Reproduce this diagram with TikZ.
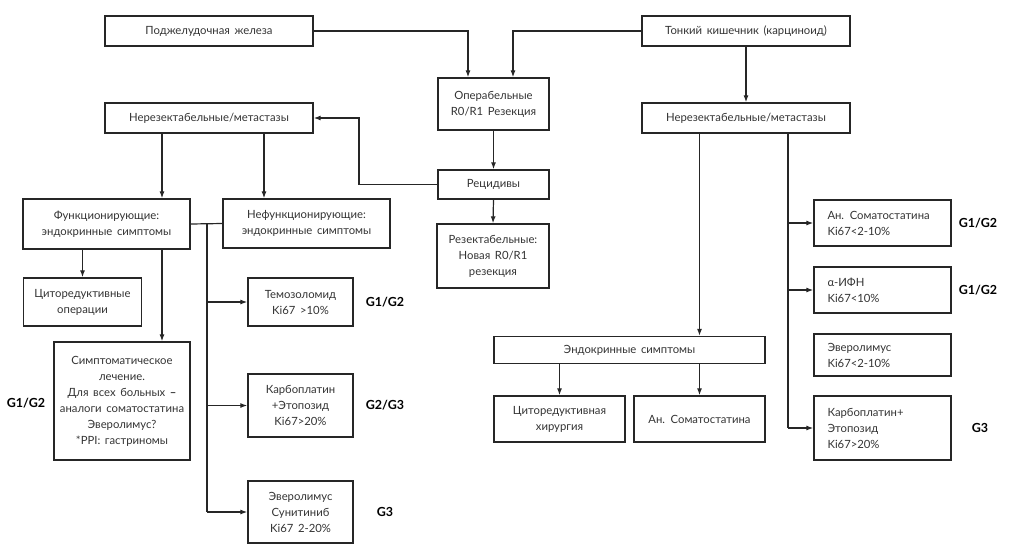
\documentclass[tikz,border=0pt]{standalone}
\usepackage{fontspec}
\setmainfont[WordSpace=1.6]{Lato}
\usetikzlibrary{arrows.meta}
\begin{document}
\begin{tikzpicture}[x=1pt,y=-1pt,
  box/.style={draw=black!85,line width=1.3pt,inner sep=2pt,text=black!80,
    font=\fontsize{11.3}{16}\selectfont,align=center},
  lbox/.style={box,align=left,text width=#1},
  arr/.style={-{Latex[length=7pt,width=5pt]},line width=1.2pt,black!85},
  ln/.style={line width=1.2pt,black!85},
  grade/.style={font=\bfseries\fontsize{12.5}{14}\selectfont}]
\useasboundingbox (0,0) rectangle (1024,552);

% top row
\node[box,minimum width=208pt,minimum height=30pt] (pancreas) at (209,31) {Поджелудочная железа};
\node[box,minimum width=208pt,minimum height=30pt] (smallint) at (746,31) {Тонкий кишечник (карциноид)};
\node[box,minimum width=111pt,minimum height=52pt] (operable) at (493.5,104) {Операбельные\\R0/R1 Резекция};
\node[box,minimum width=208pt,minimum height=30pt] (unresL) at (209,118) {Нерезектабельные/метастазы};
\node[box,minimum width=208pt,minimum height=30pt] (unresR) at (746,118) {Нерезектабельные/метастазы};
\node[box,minimum width=111pt,minimum height=29pt] (relapse) at (493.5,184.5) {Рецидивы};
\node[box,minimum width=112pt,minimum height=64pt] (resect) at (493,256) {Резектабельные:\\Новая R0/R1\\резекция};

% left branch
\node[box,minimum width=167pt,minimum height=50pt] (func) at (106.5,224) {Функционирующие:\\эндокринные симптомы};
\node[box,minimum width=167pt,minimum height=49pt] (nonfunc) at (306.5,223.5) {Нефункционирующие:\\эндокринные симптомы};
\node[box,minimum width=118pt,minimum height=48pt] (cytoop) at (82.5,302) {Циторедуктивные\\операции};
\node[box,minimum width=136pt,minimum height=118pt] (sympt) at (122,401) {Симптоматическое\\лечение.\\Для всех больных \textbf{–}\\аналоги соматостатина\\Эверолимус?\\*PPI: гастриномы};
\node[box,minimum width=105pt,minimum height=48pt] (temoz) at (300.5,302) {Темозоломид\\Ki67 >10\%};
\node[box,minimum width=105pt,minimum height=63pt] (carbo) at (300.5,405.5) {Карбоплатин\\+Этопозид\\Ki67>20\%};
\node[box,minimum width=105pt,minimum height=62pt] (everoL) at (300.5,512) {Эверолимус\\Сунитиниб\\Ki67 2-20\%};

% right branch
\node[box,minimum width=271pt,minimum height=27pt] (endo) at (629.5,350) {Эндокринные симптомы};
\node[box,minimum width=131pt,minimum height=46pt] (cytosurg) at (559.5,419) {Циторедуктивная\\хирургия};
\node[box,minimum width=131pt,minimum height=46pt] (somatoM) at (699.5,419) {Ан. Соматостатина};
\node[lbox=110pt,minimum width=137pt,minimum height=46pt] (somatoR) at (882.5,223) {Ан. Соматостатина\\Ki67<2-10\%};
\node[lbox=110pt,minimum width=137pt,minimum height=46pt] (ifn) at (882.5,290) {α-ИФН\\Ki67<10\%};
\node[lbox=110pt,minimum width=137pt,minimum height=42pt] (everoR) at (882.5,355) {Эверолимус\\Ki67<2-10\%};
\node[lbox=110pt,minimum width=137pt,minimum height=64pt] (carboR) at (882.5,428) {Карбоплатин+\\Этопозид\\Ki67>20\%};

% grades
\node[grade] (gA) at (26,403) {G1/G2};
\node[grade] (gB) at (385,302) {G1/G2};
\node[grade] (gC) at (385,405) {G2/G3};
\node[grade] (gD) at (385,512) {G3};
\node[grade] (gE) at (978,223) {G1/G2};
\node[grade] (gF) at (978,290) {G1/G2};
\node[grade] (gG) at (980,428) {G3};

% x positions of the connectors
\coordinate (p1) at (468,0);
\coordinate (p2) at (513,0);
\coordinate (p3) at (359,0);
\coordinate (c1) at (162,0);
\coordinate (c2) at (264,0);
\coordinate (b1) at (207,224);
\coordinate (b2) at (788,0);

\draw[arr] (pancreas.east) -| (operable.north -| p1);
\draw[arr] (smallint.west) -| (operable.north -| p2);
\draw[arr] (smallint.south) -- (unresR.north);
\draw[arr] (operable.south) -- (relapse.north);
\draw[arr] (relapse.south) -- (resect.north);
\draw[arr] (relapse.west) -- (relapse.west -| p3) |- (unresL.east);

\draw[arr] (unresL.south -| c1) -- (func.north -| c1);
\draw[arr] (unresL.south -| c2) -- (nonfunc.north -| c2);
\draw[arr] (func.south -| cytoop.north) -- (cytoop.north);
\draw[arr] (func.south -| c1) -- (sympt.north -| c1);
\draw[ln] (func.east) -- (nonfunc.west);
\draw[ln] (b1) -- (b1 |- everoL);
\draw[arr] (b1 |- temoz) -- (temoz.west);
\draw[arr] (b1 |- carbo) -- (carbo.west);
\draw[arr] (b1 |- everoL) -- (everoL.west);

\draw[arr] (unresR.south -| somatoM) -- (endo.north -| somatoM);
\draw[ln] (unresR.south -| b2) -- (b2 |- carboR);
\draw[arr] (b2 |- somatoR) -- (somatoR.west);
\draw[arr] (b2 |- ifn) -- (ifn.west);
\draw[arr] (b2 |- carboR) -- (carboR.west);
\draw[arr] (endo.south -| cytosurg) -- (cytosurg.north);
\draw[arr] (endo.south -| somatoM) -- (somatoM.north);
\end{tikzpicture}
\end{document}
